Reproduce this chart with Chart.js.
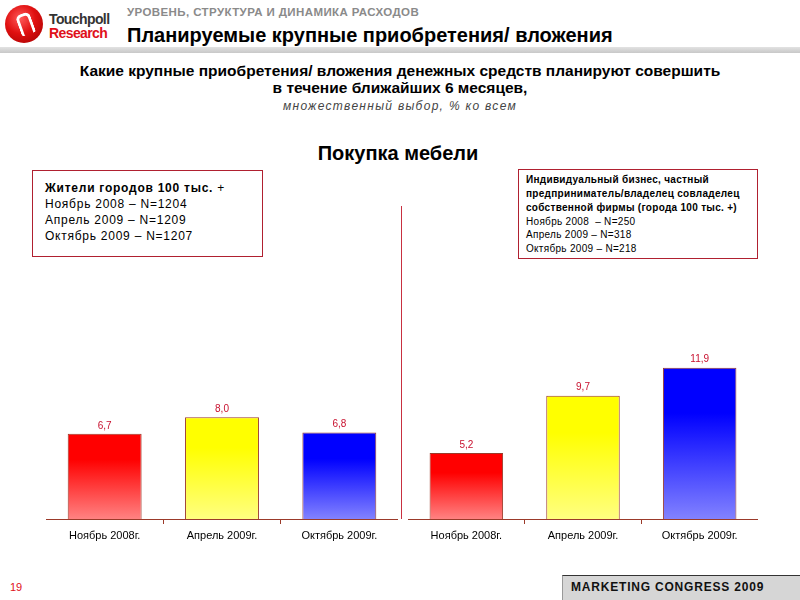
<!DOCTYPE html>
<html><head><meta charset="utf-8">
<script src="https://cdn.jsdelivr.net/npm/chart.js@4.4.0/dist/chart.umd.min.js"></script>
<style>
html,body{margin:0;padding:0;background:#fff;}
body{width:800px;height:600px;position:relative;overflow:hidden;font-family:"Liberation Sans",Arial,sans-serif;}
.abs{position:absolute;white-space:nowrap;}
#logo{left:5px;top:5px;width:38px;height:38px;border-radius:50%;background:radial-gradient(circle at 40% 35%,#ff5a5a 0%,#e01010 45%,#a00000 100%);}
#logo:after{content:"";position:absolute;left:13px;top:8px;width:9px;height:19px;border:3px solid #fff;border-radius:6px 6px 3px 3px;border-bottom:none;transform:rotate(-20deg);}
.box{position:absolute;border:1px solid #b02030;box-sizing:border-box;background:#fff;}
canvas{position:absolute;}
</style></head>
<body>
<div id="logo" class="abs"></div>
<div class="abs" style="left:49px;top:11px;font:bold 14px 'Liberation Sans',Arial;color:#333;letter-spacing:-0.6px;">Touchpoll</div>
<div class="abs" style="left:49px;top:25px;font:bold 14px 'Liberation Sans',Arial;color:#e0101a;letter-spacing:-0.6px;">Research</div>
<div class="abs" style="left:127px;top:6px;font:bold 11.5px 'Liberation Sans',Arial;color:#8a8a8a;letter-spacing:0.4px;">УРОВЕНЬ, СТРУКТУРА И ДИНАМИКА РАСХОДОВ</div>
<div class="abs" style="left:127px;top:24px;font:bold 20px 'Liberation Sans',Arial;color:#000;">Планируемые крупные приобретения/ вложения</div>
<div class="abs" style="left:0;top:47px;width:800px;height:6px;background:linear-gradient(#e2e2e2,#c8c8c8);"></div>
<div class="abs" style="left:0;top:62px;width:800px;text-align:center;font:bold 15.5px 'Liberation Sans',Arial;color:#000;line-height:17px;">Какие крупные приобретения/ вложения денежных средств планируют совершить<br>в течение ближайших 6 месяцев,</div>
<div class="abs" style="left:0;top:99px;width:800px;text-align:center;font:italic 12px 'Liberation Sans',Arial;color:#444;letter-spacing:1.3px;">множественный выбор, % ко всем</div>
<div class="abs" style="left:0;top:142px;width:796px;text-align:center;font:bold 20px 'Liberation Sans',Arial;color:#000;">Покупка мебели</div>

<div class="box" style="left:32px;top:170px;width:231px;height:87px;"></div>
<div class="abs" style="left:45px;top:180px;font:12px 'Liberation Sans',Arial;line-height:16px;letter-spacing:0.75px;color:#000;"><b>Жители городов 100 тыс.</b> +<br>Ноябрь 2008 – N=1204<br>Апрель 2009 – N=1209<br>Октябрь 2009 – N=1207</div>

<div class="box" style="left:518px;top:169px;width:240px;height:90px;"></div>
<div class="abs" style="left:526px;top:173px;font:10px 'Liberation Sans',Arial;line-height:13.3px;letter-spacing:0.3px;color:#000;"><b style="line-height:14px;">Индивидуальный бизнес, частный<br>предприниматель/владелец совладелец<br>собственной фирмы (города 100 тыс. +)</b><br>Ноябрь 2008 &nbsp;– N=250<br>Апрель 2009 – N=318<br>Октябрь 2009 – N=218</div>

<div class="abs" style="left:401px;top:206px;width:1px;height:313px;background:#c83040;"></div>

<canvas id="c1" style="left:46px;top:336px;"></canvas>
<canvas id="c2" style="left:408px;top:336px;"></canvas>

<div class="abs" style="left:10px;top:581px;font:11px 'Liberation Sans',Arial;color:#e0101a;">19</div>
<div class="abs" style="left:562px;top:575px;width:238px;height:25px;background:#d6d6d6;border-top:1px solid #333;border-left:1px solid #999;box-sizing:border-box;"></div>
<div class="abs" style="left:571px;top:580px;font:bold 12px 'Liberation Sans',Arial;color:#111;letter-spacing:0.8px;">MARKETING CONGRESS 2009</div>

<script>
const categories = ["Ноябрь 2008г.", "Апрель 2009г.", "Октябрь 2009г."];
const cityValues = [6.7, 8.0, 6.8];
const businessValues = [5.2, 9.7, 11.9];
const solidColors = ["#ff0000", "#ffff00", "#0000ff"];
const lightColors = ["#ff8282", "#ffff80", "#8282ff"];

const labelPlugin = {
  id: 'vlabels',
  afterDatasetsDraw(chart) {
    const ctx = chart.ctx;
    const meta = chart.getDatasetMeta(0);
    const data = chart.data.datasets[0].data;
    ctx.save();
    ctx.fillStyle = '#c8102e';
    ctx.font = '10px "Liberation Sans", Arial';
    ctx.textAlign = 'center';
    ctx.textBaseline = 'bottom';
    meta.data.forEach((bar, i) => {
      ctx.fillText(data[i].toFixed(1).replace('.', ','), bar.x, bar.y - 3);
    });
    ctx.restore();
  }
};

function makeChart(id, values, width) {
  const canvas = document.getElementById(id);
  canvas.style.width = width + 'px';
  canvas.style.height = '213px';
  return new Chart(canvas, {
    type: 'bar',
    data: {
      labels: categories,
      datasets: [{
        data: values,
        backgroundColor: (c) => {
          const chart = c.chart;
          if (!chart.chartArea || c.dataIndex === undefined) return solidColors[c.dataIndex || 0];
          const y = chart.scales.y;
          const top = y.getPixelForValue(values[c.dataIndex]);
          const bot = y.getPixelForValue(0);
          const g = chart.ctx.createLinearGradient(0, top, 0, bot);
          g.addColorStop(0, solidColors[c.dataIndex]);
          g.addColorStop(0.3, solidColors[c.dataIndex]);
          g.addColorStop(1, lightColors[c.dataIndex]);
          return g;
        },
        borderColor: '#9b3a2a',
        borderWidth: 1,
        barPercentage: 0.63,
        categoryPercentage: 1.0
      }]
    },
    options: {
      responsive: false,
      animation: false,
      devicePixelRatio: 1,
      layout: { padding: { top: 5, left: 0, right: 0, bottom: 0 } },
      plugins: { legend: { display: false }, tooltip: { enabled: false } },
      scales: {
        y: { display: false, min: 0, max: 14 },
        x: {
          afterFit: (axis) => { axis.height = 30; },
          border: { display: true, color: '#9b3a2a', width: 1 },
          grid: { display: true, drawOnChartArea: false, drawTicks: true, tickLength: 5, color: '#9b3a2a', offset: true },
          ticks: { color: '#000', font: { size: 11, family: '"Liberation Sans", Arial' }, padding: 5 }
        }
      }
    },
    plugins: [labelPlugin]
  });
}
makeChart('c1', cityValues, 352);
makeChart('c2', businessValues, 350);
</script>
</body></html>
